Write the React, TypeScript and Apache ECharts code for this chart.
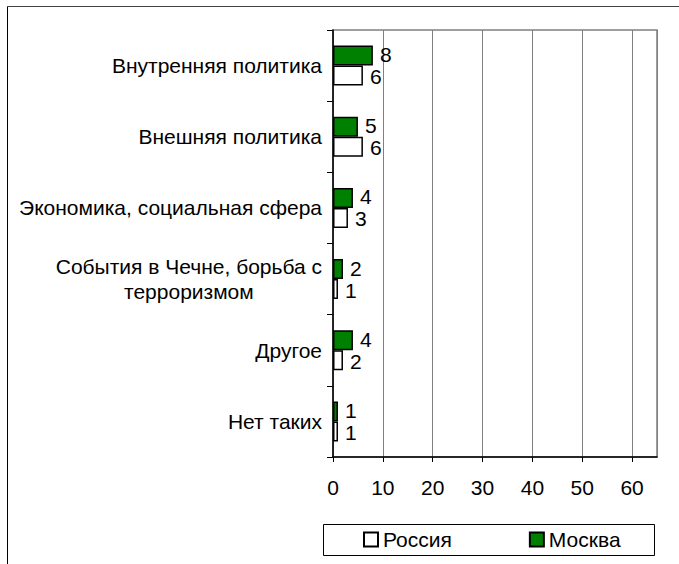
import React, { useEffect, useRef } from "react";
import * as echarts from "echarts";

const categories = [
  "Внутренняя политика",
  "Внешняя политика",
  "Экономика, социальная сфера",
  "События в Чечне, борьба с\nтерроризмом",
  "Другое",
  "Нет таких",
];
const moscow = [8, 5, 4, 2, 4, 1];
const russia = [6, 6, 3, 1, 2, 1];
const seriesNames = ["Россия", "Москва"];
const xMin = 0;
const xMax = 65;
const xInterval = 10;

const FONT = "'Liberation Sans', Arial, sans-serif";
const FS = 21;

export default function App() {
  const ref = useRef<HTMLDivElement>(null);
  useEffect(() => {
    if (!ref.current) return;
    const chart = echarts.init(ref.current, null, { renderer: "svg" });
    const labelStyle = (dy: number) => ({
      show: true,
      position: "right",
      distance: 7,
      offset: [0, dy],
      color: "#000",
      fontSize: FS,
      lineHeight: 18,
      fontFamily: FONT,
    });
    chart.setOption({
      animation: false,
      backgroundColor: "#fff",
      textStyle: { fontFamily: FONT },
      grid: {
        left: 333,
        top: 30,
        width: 324,
        height: 427,
        show: true,
        borderColor: "#808080",
        borderWidth: 1.5,
        containLabel: false,
      },
      xAxis: {
        type: "value",
        min: xMin,
        max: xMax,
        interval: xInterval,
        axisLine: { show: true, lineStyle: { color: "#000", width: 1.5 } },
        axisTick: { show: true, length: 5, lineStyle: { color: "#000" } },
        splitLine: { show: true, lineStyle: { color: "#808080", width: 1 } },
        axisLabel: {
          color: "#000",
          fontSize: FS,
          fontFamily: FONT,
          margin: 20,
          showMaxLabel: false,
        },
      },
      yAxis: {
        type: "category",
        inverse: true,
        data: categories,
        axisLine: { show: true, lineStyle: { color: "#000", width: 1.5 } },
        axisTick: { show: true, length: 6, lineStyle: { color: "#000" } },
        splitLine: { show: false },
        axisLabel: {
          color: "#000",
          fontSize: FS,
          fontFamily: FONT,
          margin: 11,
          formatter: (v: string) =>
            v
              .split("\n")
              .map((l) => `{c|${l}}`)
              .join("\n"),
          rich: {
            c: {
              align: "center",
              fontSize: FS,
              fontFamily: FONT,
              color: "#000",
              lineHeight: 25,
            },
          },
        },
      },
      legend: {
        data: seriesNames,
        left: 363,
        top: 529,
        padding: 0,
        itemGap: 77,
        itemWidth: 14,
        itemHeight: 14,
        icon: "rect",
        textStyle: { color: "#000", fontSize: FS, fontFamily: FONT },
      },
      series: [
        {
          name: "Москва",
          type: "bar",
          data: moscow,
          barWidth: 20,
          barGap: "0%",
          itemStyle: { color: "#008000", borderColor: "#000", borderWidth: 1.5 },
          label: labelStyle(-1),
        },
        {
          name: "Россия",
          type: "bar",
          data: russia,
          barWidth: 20,
          barGap: "0%",
          itemStyle: { color: "#fff", borderColor: "#000", borderWidth: 1.5 },
          label: labelStyle(1),
        },
      ],
      graphic: [
        {
          type: "rect",
          shape: { x: 323.5, y: 524.5, width: 331, height: 31 },
          style: { fill: "none", stroke: "#000", lineWidth: 1 },
          z: -1,
        },
        {
          type: "line",
          shape: { x1: 7.5, y1: 6.5, x2: 679, y2: 6.5 },
          style: { stroke: "#444", lineWidth: 1 },
        },
        {
          type: "line",
          shape: { x1: 7.5, y1: 6.5, x2: 7.5, y2: 564 },
          style: { stroke: "#000", lineWidth: 1 },
        },
      ],
    });
    return () => chart.dispose();
  }, []);
  return (
    <div
      ref={ref}
      style={{ position: "fixed", left: 0, top: 0, width: 679, height: 564 }}
    />
  );
}
